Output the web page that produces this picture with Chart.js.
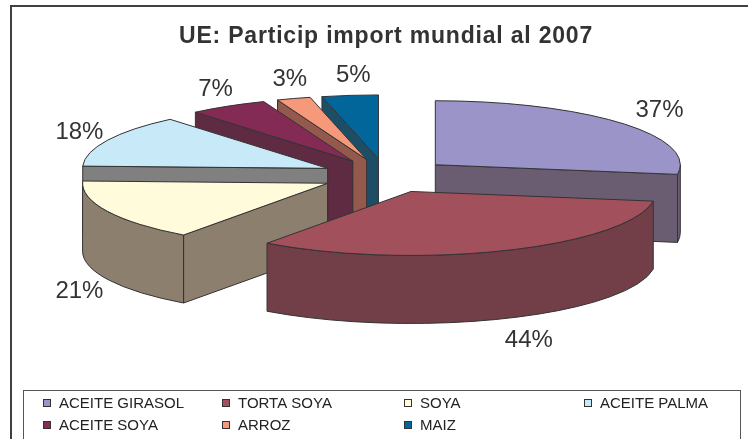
<!DOCTYPE html>
<html>
<head>
<meta charset="utf-8">
<script src="https://cdn.jsdelivr.net/npm/chart.js@4/dist/chart.umd.min.js"></script>
<style>
html,body{margin:0;padding:0;background:#fff;}
#wrap{position:relative;width:748px;height:439px;}
</style>
</head>
<body>
<div id="wrap"><canvas id="c" width="748" height="439"></canvas></div>
<script>
// ---- data ----
const categories = ['ACEITE GIRASOL', 'TORTA SOYA', 'SOYA', 'ACEITE PALMA', 'ACEITE SOYA', 'ARROZ', 'MAIZ'];
const values = [37, 44, 21, 18, 7, 3, 5];
const chartTitle = 'UE: Particip import mundial al 2007';

// ---- styles ----
const topColors  = ['#9A94C8', '#A3505D', '#FFFBDB', '#C7E9F8', '#842B55', '#F5997A', '#03669B'];
const sideColors = ['#6A5D72', '#723F48', '#8D7F6E', '#808080', '#5E2B42', '#93594D', '#1E4D66'];
const FONT = "'Liberation Sans', Arial, sans-serif";
const TILT = 0.2612;   // vertical squash of the pie
const DEPTH = 68;      // thickness of the 3D pie

const pie3d = {
  id: 'pie3d',
  beforeDraw(chart) {
    chart.ctx.letterSpacing = '0.8px';
  },
  beforeDatasetsDraw(chart) {
    const ctx = chart.ctx;
    ctx.letterSpacing = '0px';
    const meta = chart.getDatasetMeta(0);
    const slices = meta.data.map((el, i) => {
      const p = el.getProps(['x', 'y', 'startAngle', 'endAngle', 'outerRadius'], true);
      const mid = (p.startAngle + p.endAngle) / 2;
      const off = el.options.offset || 0;
      return {
        i, t1: p.startAngle, t2: p.endAngle, mid, R: p.outerRadius,
        ax: p.x + off * Math.cos(mid),
        ay: p.y + off * Math.sin(mid) * TILT
      };
    });
    const order = slices.slice().sort((a, b) => Math.sin(a.mid) - Math.sin(b.mid));
    ctx.save();
    ctx.lineWidth = 1;
    ctx.strokeStyle = '#333333';
    ctx.lineJoin = 'round';
    for (const s of order) {
      const rx = s.R, ry = s.R * TILT;
      const side = sideColors[s.i], top = topColors[s.i];
      const rim = t => [s.ax + rx * Math.cos(t), s.ay + ry * Math.sin(t)];
      const face = t => {
        const [px, py] = rim(t);
        ctx.beginPath();
        ctx.moveTo(s.ax, s.ay);
        ctx.lineTo(px, py);
        ctx.lineTo(px, py + DEPTH);
        ctx.lineTo(s.ax, s.ay + DEPTH);
        ctx.closePath();
        ctx.fillStyle = side; ctx.fill(); ctx.stroke();
      };
      if (Math.cos(s.t1) < -1e-6) face(s.t1);
      if (Math.cos(s.t2) > 1e-6) face(s.t2);
      const a = Math.max(s.t1, 0), b = Math.min(s.t2, Math.PI);
      if (a < b) {
        ctx.beginPath();
        ctx.ellipse(s.ax, s.ay, rx, ry, 0, a, b, false);
        ctx.ellipse(s.ax, s.ay + DEPTH, rx, ry, 0, b, a, true);
        ctx.closePath();
        ctx.fillStyle = side; ctx.fill(); ctx.stroke();
      }
      ctx.beginPath();
      ctx.moveTo(s.ax, s.ay);
      ctx.ellipse(s.ax, s.ay, rx, ry, 0, s.t1, s.t2, false);
      ctx.closePath();
      ctx.fillStyle = top; ctx.fill(); ctx.stroke();
    }
    // value labels
    ctx.fillStyle = '#333333';
    ctx.font = '24px ' + FONT;
    ctx.textAlign = 'center';
    ctx.textBaseline = 'middle';
    for (const s of slices) {
      const ry = s.R * TILT;
      const sn = Math.sin(s.mid);
      const lx = s.ax + (s.R + 40) * Math.cos(s.mid) + 8;
      const ly = s.ay + (ry + 22) * sn + (sn > 0 ? DEPTH : 0) + 2;
      ctx.fillText(values[s.i] + '%', lx, ly);
    }
    ctx.restore();
    return false;
  },
  afterDraw(chart) {
    const ctx = chart.ctx;
    ctx.save();
    ctx.letterSpacing = '0px';
    // outer frame
    ctx.strokeStyle = '#404040';
    ctx.lineWidth = 2;
    ctx.strokeRect(11, 6, 760, 460);
    // legend box
    ctx.strokeStyle = '#555555';
    ctx.lineWidth = 1;
    ctx.strokeRect(23.5, 390.5, 717, 60);
    const colX = [43, 222, 404, 584];
    const rowY = [403, 425];
    ctx.font = '15px ' + FONT;
    ctx.textAlign = 'left';
    ctx.textBaseline = 'middle';
    categories.forEach((name, i) => {
      const x = colX[i % 4], y = rowY[Math.floor(i / 4)];
      ctx.fillStyle = topColors[i];
      ctx.fillRect(x, y - 4, 7, 7);
      ctx.strokeStyle = '#333333';
      ctx.strokeRect(x + 0.5, y - 3.5, 7, 7);
      ctx.fillStyle = '#222222';
      ctx.fillText(name, x + 16, y + 1);
    });
    ctx.restore();
  }
};

new Chart(document.getElementById('c'), {
  type: 'pie',
  data: {
    labels: categories,
    datasets: [{
      data: values,
      backgroundColor: topColors,
      borderColor: '#333333',
      borderWidth: 1,
      offset: 65,
      radius: 245
    }]
  },
  options: {
    responsive: false,
    animation: false,
    events: [],
    rotation: 0,
    layout: { padding: { top: 10, left: 24, right: 0, bottom: 148 } },
    plugins: {
      legend: { display: false },
      tooltip: { enabled: false },
      title: {
        display: true,
        text: chartTitle,
        color: '#333333',
        font: { family: FONT, size: 23, weight: 'bold' },
        padding: { top: 13, bottom: 10 }
      }
    }
  },
  plugins: [pie3d]
});
</script>
</body>
</html>
